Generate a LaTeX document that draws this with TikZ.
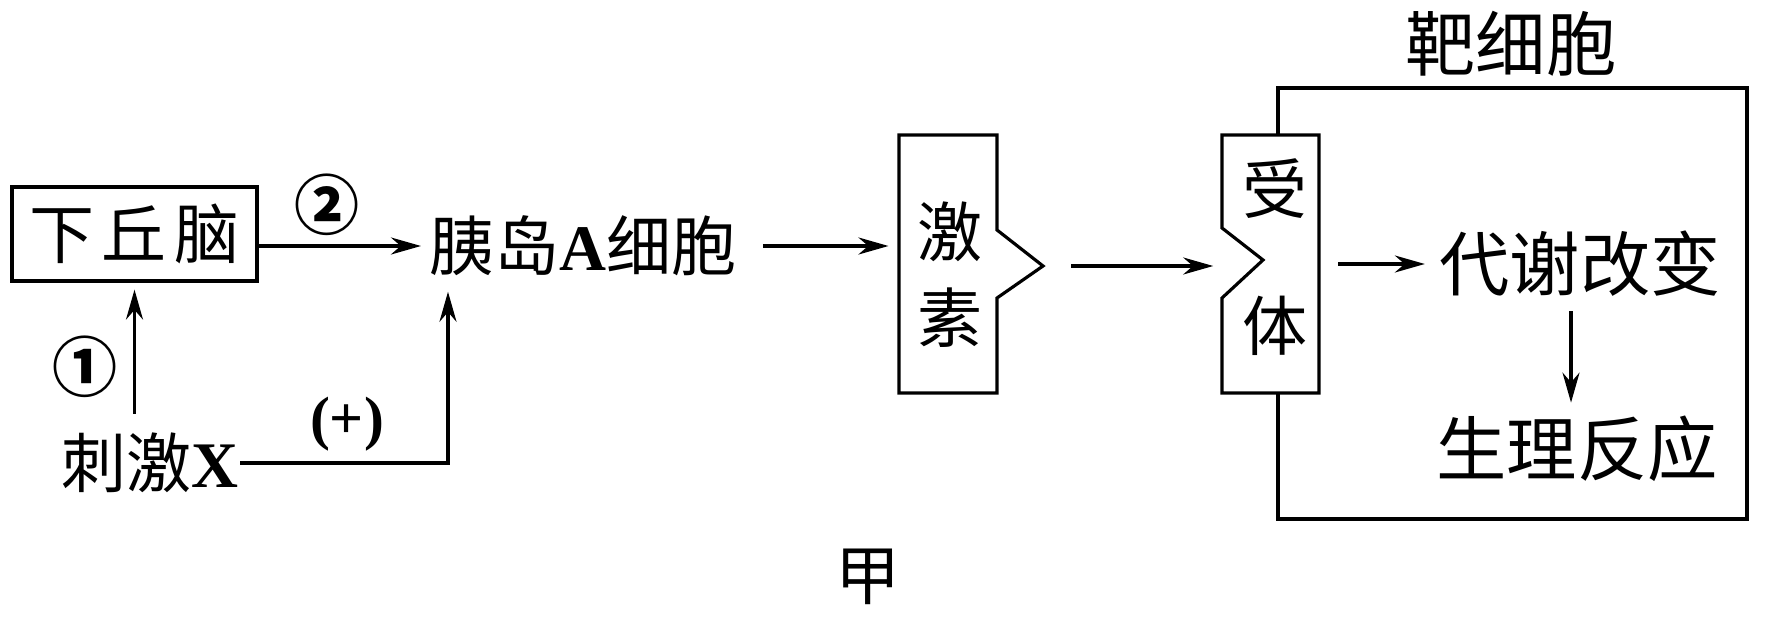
\documentclass[tikz,border=0pt]{standalone}
\usepackage{fontspec}
\setmainfont{Liberation Serif}
\newfontfamily\cjk{Noto Sans CJK SC}
\usetikzlibrary{arrows.meta}

\tikzset{
    arr/.style={-{Stealth[length=3mm,width=1.7mm]}, line width=0.9pt},
    lbl/.style={inner sep=0pt, font=\cjk\fontsize{18.5}{22}\selectfont},
    big/.style={inner sep=0pt, font=\cjk\fontsize{20}{24}\selectfont},
}

\begin{document}
\begin{tikzpicture}[line width=0.9pt]
    \useasboundingbox (0,0) rectangle (17.91,6.30);

    % hormone
    \coordinate (h1) at (8.99,4.95);
    \coordinate (h2) at (9.97,4.95);
    \coordinate (h3) at (9.97,4.00);
    \coordinate (htip) at (10.43,3.64);
    \coordinate (h4) at (9.97,3.32);
    \coordinate (h5) at (9.97,2.37);
    \coordinate (h6) at (8.99,2.37);

    % receptor
    \coordinate (r1) at (12.22,4.95);
    \coordinate (r2) at (13.19,4.95);
    \coordinate (r3) at (13.19,2.37);
    \coordinate (r4) at (12.22,2.37);
    \coordinate (r5) at (12.22,3.32);
    \coordinate (rtip) at (12.63,3.70);
    \coordinate (r6) at (12.22,4.02);

    % target cell
    \coordinate (c1) at (12.78,1.11);
    \coordinate (c2) at (17.47,5.42);
    \coordinate (d) at (15.71,0);

    \draw (c1) rectangle (c2);
    \draw (h1) -- (h2) -- (h3) -- (htip) -- (h4) -- (h5) -- (h6) -- cycle;
    \filldraw[fill=white]
        (r1) -- (r2) -- (r3) -- (r4) -- (r5) -- (rtip) -- (r6) -- cycle;

    \node[lbl, draw, line width=0.9pt, minimum width=2.45cm, minimum height=0.94cm]
        (hyp) at (1.345,3.96) {下\hspace{2pt}丘\hspace{2pt}脑};
    \node[lbl, anchor=west] (islet) at (4.28,3.84) {胰岛{\rmfamily\bfseries A}细胞};
    \node[lbl] (stim) at (1.50,1.67) {刺激{\rmfamily\bfseries X}};
    \node[lbl] (one) at (0.85,2.63) {\bfseries ①};
    \node[lbl] (two) at (3.27,4.25) {\bfseries ②};
    \node[inner sep=0pt, font=\fontsize{17}{20}\selectfont\bfseries] (plus) at (3.47,2.06) {(+)};

    \node[lbl] (ji) at (9.50,3.98) {激};
    \node[lbl] (su) at (9.50,3.12) {素};
    \node[lbl] (shou) at (12.75,4.41) {受};
    \node[lbl] (ti) at (12.75,3.04) {体};

    \node[big] (target) at (15.11,5.86) {靶细胞};
    \node[big] (met) at (15.80,3.66) {代谢改变};
    \node[big] (resp) at (15.77,1.81) {生理反应};
    \node[lbl] (jia) at (8.68,0.53) {甲};

    \draw[arr, shorten <=5pt, shorten >=2pt] (hyp.south |- stim.north) -- (hyp.south);
    \draw[arr, shorten >=2pt] (hyp.east |- islet.west) -- (islet.west);
    \draw[arr, shorten >=4pt] (stim.east) -| (islet.south -| 4.48,0);
    \draw[arr, shorten <=7pt, shorten >=3pt] (islet.east) -- (islet.east -| h1);
    \draw[arr, shorten <=8pt, shorten >=2.5pt] (htip) -- (htip -| r5);
    \draw[arr, shorten <=5.4pt, shorten >=3.7pt] (r2 |- met.west) -- (met.west);
    \draw[arr, shorten <=3.7pt, shorten >=3.4pt] (met.south -| d) -- (resp.north -| d);
\end{tikzpicture}
\end{document}
